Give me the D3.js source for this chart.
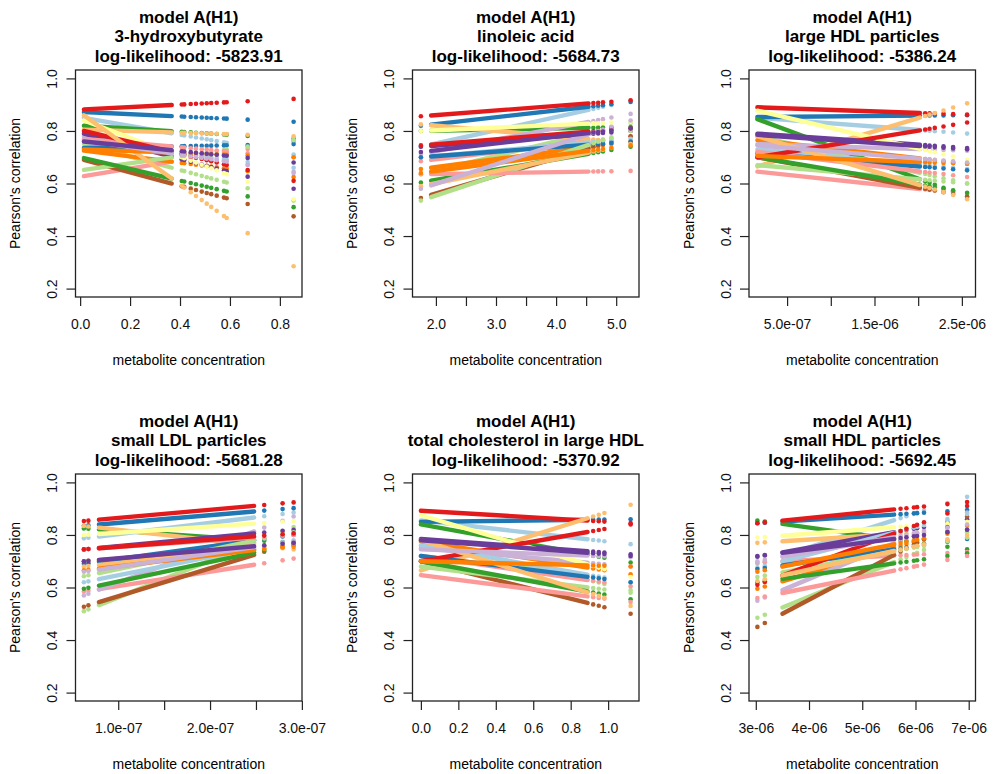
<!DOCTYPE html>
<html>
<head>
<meta charset="utf-8">
<script src="https://d3js.org/d3.v7.min.js"></script>
<style>
  body { margin: 0; background: #fff; }
  svg { display: block; font-family: "Liberation Sans", Arial, sans-serif; }
</style>
</head>
<body>
<svg width="993" height="774"></svg>
<script>

// panel titles
var metabolites = ["3-hydroxybutyrate", "linoleic acid", "large HDL particles",
                   "small LDL particles", "total cholesterol in large HDL", "small HDL particles"];
var logLik = ["-5823.91", "-5684.73", "-5386.24", "-5681.28", "-5370.92", "-5692.45"];

// concentrations: the densely sampled stretch [from, to] and the isolated samples
var xDense = [[0.015, 0.367], [1.92, 4.54], [1.6e-7, 2.02e-6],
              [7.9e-8, 2.48e-7], [0, 0.89], [3.5e-6, 5.6e-6]];
var xSparse = [
  [0.407, 0.417, 0.443, 0.464, 0.487, 0.507, 0.525, 0.547, 0.576, 0.587, 0.671, 0.855],
  [1.75, 4.62, 4.70, 4.78, 4.92, 5.24],
  [2.08e-6, 2.13e-6, 2.19e-6, 2.29e-6, 2.40e-6, 2.56e-6],
  [6.26e-8, 6.75e-8, 2.59e-7, 2.79e-7, 2.91e-7],
  [0.92, 0.95, 0.98, 1.12],
  [3.03e-6, 3.17e-6, 5.72e-6, 5.83e-6, 5.97e-6, 6.03e-6, 6.16e-6, 6.6e-6, 6.97e-6]
];

// fitted correlation of each of the 22 series at the lowest and highest concentration
var corrLo = [
  [0.85, 0.872, 0.75, 0.82, 0.628, 0.882, 0.805, 0.725, 0.78, 0.79, 0.84, 0.69,
   0.76, 0.735, 0.652, 0.697, 0.77, 0.80, 0.86, 0.73, 0.765, 0.76],
  [0.74, 0.82, 0.635, 0.80, 0.685, 0.856, 0.825, 0.655, 0.712, 0.74, 0.80, 0.545,
   0.70, 0.70, 0.535, 0.604, 0.635, 0.745, 0.59, 0.64, 0.58, 0.72],
  [0.85, 0.853, 0.78, 0.845, 0.645, 0.89, 0.665, 0.765, 0.75, 0.79, 0.877, 0.70,
   0.73, 0.715, 0.67, 0.70, 0.72, 0.70, 0.78, 0.705, 0.745, 0.785],
  [0.787, 0.835, 0.51, 0.825, 0.585, 0.853, 0.834, 0.70, 0.57, 0.745, 0.80, 0.527,
   0.62, 0.69, 0.643, 0.595, 0.745, 0.745, 0.68, 0.665, 0.66, 0.70],
  [0.855, 0.85, 0.78, 0.84, 0.72, 0.892, 0.665, 0.775, 0.75, 0.785, 0.875, 0.70,
   0.76, 0.72, 0.68, 0.70, 0.647, 0.70, 0.78, 0.70, 0.745, 0.78],
  [0.69, 0.845, 0.485, 0.855, 0.695, 0.845, 0.77, 0.595, 0.55, 0.717, 0.79, 0.45,
   0.675, 0.67, 0.64, 0.62, 0.56, 0.61, 0.625, 0.66, 0.70, 0.72]
];
var corrHi = [
  [0.71, 0.835, 0.535, 0.77, 0.76, 0.922, 0.78, 0.625, 0.64, 0.58, 0.54, 0.475,
   0.66, 0.75, 0.765, 0.51, 0.70, 0.61, 0.285, 0.70, 0.645, 0.68],
  [0.915, 0.91, 0.83, 0.815, 0.78, 0.917, 0.755, 0.76, 0.865, 0.80, 0.835, 0.78,
   0.77, 0.76, 0.80, 0.74, 0.648, 0.81, 0.75, 0.745, 0.84, 0.81],
  [0.79, 0.86, 0.60, 0.55, 0.56, 0.862, 0.905, 0.675, 0.725, 0.735, 0.69, 0.55,
   0.655, 0.65, 0.60, 0.565, 0.625, 0.832, 0.54, 0.675, 0.68, 0.73],
  [0.885, 0.902, 0.83, 0.77, 0.71, 0.924, 0.745, 0.755, 0.87, 0.82, 0.853, 0.77,
   0.78, 0.80, 0.81, 0.765, 0.80, 0.806, 0.76, 0.76, 0.775, 0.77],
  [0.765, 0.86, 0.59, 0.695, 0.605, 0.845, 0.915, 0.65, 0.68, 0.726, 0.64, 0.50,
   0.62, 0.62, 0.58, 0.555, 0.545, 0.84, 0.53, 0.68, 0.715, 0.72],
  [0.945, 0.895, 0.81, 0.745, 0.735, 0.925, 0.82, 0.835, 0.885, 0.86, 0.85, 0.87,
   0.88, 0.785, 0.79, 0.73, 0.72, 0.91, 0.80, 0.82, 0.84, 0.82]
];

// axis ticks
var xTicks = [
  [0, 0.2, 0.4, 0.6, 0.8],
  [2, 2.5, 3, 3.5, 4, 4.5, 5],
  [5e-7, 1e-6, 1.5e-6, 2e-6, 2.5e-6],
  [1e-7, 1.5e-7, 2e-7, 2.5e-7, 3e-7],
  [0, 0.2, 0.4, 0.6, 0.8, 1.0],
  [3e-6, 4e-6, 5e-6, 6e-6, 7e-6]
];
var xTickLabels = [
  ["0.0", "0.2", "0.4", "0.6", "0.8"],
  ["2.0", "", "3.0", "", "4.0", "", "5.0"],
  ["5.0e-07", "", "1.5e-06", "", "2.5e-06"],
  ["1.0e-07", "", "2.0e-07", "", "3.0e-07"],
  ["0.0", "0.2", "0.4", "0.6", "0.8", "1.0"],
  ["3e-06", "4e-06", "5e-06", "6e-06", "7e-06"]
];
var yTicks = [0.2, 0.4, 0.6, 0.8, 1.0];
var yTickLabels = ["0.2", "0.4", "0.6", "0.8", "1.0"];

// RColorBrewer "Paired", recycled over the series
var paired = ["#A6CEE3", "#1F78B4", "#B2DF8A", "#33A02C", "#FB9A99", "#E31A1C",
              "#FDBF6F", "#FF7F00", "#CAB2D6", "#6A3D9A", "#FFFF99", "#B15928"];

var svg = d3.select("svg");
svg.append("rect").attr("width", 993).attr("height", 774).attr("fill", "#fff");

var boxLeft = [75.5, 412.5, 749], boxTop = [70, 474];
var boxW = 226.5, boxH = 227;
var dotR = 2.3;

metabolites.forEach(function(name, p) {
  var L = boxLeft[p % 3], T = boxTop[Math.floor(p / 3)];
  var g = svg.append("g");

  var xAll = xDense[p].concat(xSparse[p]);
  var xMin = d3.min(xAll), xMax = d3.max(xAll);
  var pad = 0.04 * (xMax - xMin);

  var x = d3.scaleLinear().domain([xMin - pad, xMax + pad]).range([L, L + boxW]);
  var y = d3.scaleLinear().domain([0.168, 1.032]).range([T + boxH, T]);

  // fitted value of series i at concentration c
  function fit(i, c) {
    return corrLo[p][i] + (corrHi[p][i] - corrLo[p][i]) * (c - xMin) / (xMax - xMin);
  }

  var line = d3.line().x(function(d) { return x(d[0]); }).y(function(d) { return y(d[1]); });

  corrLo[p].forEach(function(v, i) {
    var col = paired[i % 12];
    var s = g.append("g");

    // dense stretch: the overlapping dots read as a thick band
    s.append("path")
      .datum(xDense[p].map(function(c) { return [c, fit(i, c)]; }))
      .attr("d", line)
      .attr("stroke", col)
      .attr("stroke-width", dotR * 1.9)
      .attr("stroke-linecap", "round")
      .attr("fill", "none");

    s.selectAll("circle")
      .data(xSparse[p])
      .enter()
      .append("circle")
      .attr("cx", function(c) { return x(c); })
      .attr("cy", function(c) { return y(fit(i, c)); })
      .attr("r", dotR)
      .attr("fill", col);
  });

  // axes
  var xa = g.append("g")
    .attr("transform", "translate(0," + (T + boxH) + ")")
    .call(d3.axisBottom(x).tickValues(xTicks[p])
      .tickFormat(function(d, i) { return xTickLabels[p][i]; })
      .tickSize(9).tickSizeOuter(0));
  xa.select(".domain").remove();
  xa.selectAll("line").attr("stroke", "#222").attr("stroke-width", 1.2);
  xa.selectAll("text")
    .attr("y", 32).attr("dy", null)
    .attr("fill", "#111")
    .style("font-size", "14px").style("font-family", "Liberation Sans, Arial, sans-serif");

  var ya = g.append("g")
    .attr("transform", "translate(" + L + ",0)")
    .call(d3.axisLeft(y).tickValues(yTicks)
      .tickFormat(function(d, i) { return yTickLabels[i]; })
      .tickSize(9).tickSizeOuter(0));
  ya.select(".domain").remove();
  ya.selectAll("line").attr("stroke", "#222").attr("stroke-width", 1.2);
  ya.selectAll("text")
    .attr("x", 0).attr("y", -18.2).attr("dy", null)
    .attr("transform", "rotate(-90)")
    .attr("text-anchor", "middle")
    .attr("fill", "#111")
    .style("font-size", "14px").style("font-family", "Liberation Sans, Arial, sans-serif");

  // plot frame
  g.append("rect")
    .attr("x", L).attr("y", T)
    .attr("width", boxW).attr("height", boxH)
    .attr("fill", "none")
    .attr("stroke", "#222")
    .attr("stroke-width", 1.3);

  // axis titles
  g.append("text")
    .attr("x", L + boxW / 2).attr("y", T + boxH + 68)
    .attr("text-anchor", "middle")
    .style("font-size", "14px")
    .text("metabolite concentration");

  g.append("text")
    .attr("transform", "translate(" + (L - 55.5) + "," + (T + boxH / 2) + ") rotate(-90)")
    .attr("text-anchor", "middle")
    .style("font-size", "14px")
    .text("Pearson's correlation");

  // three line title
  var title = ["model A(H1)", name, "log-likelihood: " + logLik[p]];
  g.selectAll("text.title")
    .data(title)
    .enter()
    .append("text")
    .attr("class", "title")
    .attr("x", L + boxW / 2)
    .attr("y", function(d, k) { return T - 47.5 + k * 19.8; })
    .attr("text-anchor", "middle")
    .style("font-size", "17px")
    .style("font-weight", "bold")
    .text(function(d) { return d; });
});

</script>
</body>
</html>
